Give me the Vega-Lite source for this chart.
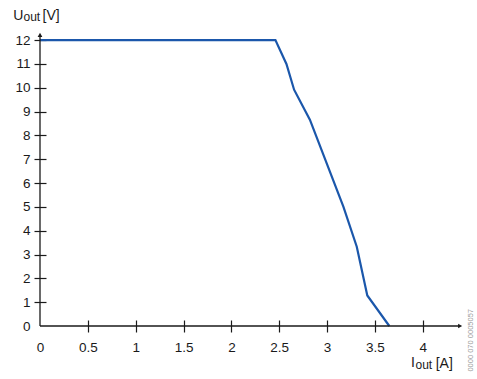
{
  "$schema": "https://vega.github.io/schema/vega-lite/v6.json",
  "width": 423,
  "height": 293,
  "autosize": {"type": "none"},
  "padding": {"left": 40, "top": 33, "right": 14, "bottom": 53},
  "background": "white",
  "config": {
    "view": {"stroke": null},
    "font": "Liberation Sans",
    "text": {"font": "Liberation Sans", "color": "#1a1a1a"}
  },
  "resolve": {"axis": {"x": "independent", "y": "independent"}},
  "datasets": {
    "curve": [
      {"I": 0, "U": 12},
      {"I": 2.46, "U": 12},
      {"I": 2.575, "U": 11.0},
      {"I": 2.655, "U": 9.92},
      {"I": 2.82, "U": 8.66},
      {"I": 3.17, "U": 5.01},
      {"I": 3.31, "U": 3.33},
      {"I": 3.42, "U": 1.28},
      {"I": 3.65, "U": 0}
    ],
    "anchor": [{"a": 1}]
  },
  "layer": [
    {
      "data": {"name": "curve"},
      "mark": {"type": "line", "color": "#1b57ab", "strokeWidth": 2.2, "clip": false},
      "encoding": {
        "x": {
          "field": "I", "type": "quantitative",
          "scale": {"domain": [0, 4.42], "nice": false, "zero": false},
          "axis": {
            "orient": "bottom",
            "values": [0, 0.5, 1, 1.5, 2, 2.5, 3, 3.5, 4],
            "format": "~g",
            "title": null,
            "grid": false,
            "domain": false,
            "offset": -6,
            "tickSize": 12,
            "tickWidth": 1.2,
            "tickColor": "#1a1a1a",
            "tickOpacity": {"condition": {"test": "datum.value === 0", "value": 0}, "value": 1},
            "labelPadding": 8,
            "labelFont": "Liberation Sans",
            "labelFontSize": 13.5,
            "labelColor": "#1a1a1a",
            "labelOverlap": false,
            "labelFlush": false
          }
        },
        "y": {
          "field": "U", "type": "quantitative",
          "scale": {"domain": [0, 12.3], "nice": false, "zero": false},
          "axis": {
            "orient": "left",
            "values": [0, 1, 2, 3, 4, 5, 6, 7, 8, 9, 10, 11, 12],
            "format": "~g",
            "title": null,
            "grid": false,
            "domain": false,
            "offset": -6,
            "tickSize": 12,
            "tickWidth": 1.2,
            "tickColor": "#1a1a1a",
            "tickOpacity": {"condition": {"test": "datum.value === 0", "value": 0}, "value": 1},
            "labelPadding": 4,
            "labelFont": "Liberation Sans",
            "labelFontSize": 13.5,
            "labelColor": "#1a1a1a",
            "labelOverlap": false,
            "labelFlush": false
          }
        }
      }
    },
    {
      "data": {"name": "anchor"},
      "mark": {"type": "rule", "color": "#1a1a1a", "strokeWidth": 1.3},
      "encoding": {"x": {"datum": 0, "axis": null}, "x2": {"datum": 4.39}, "y": {"datum": 0, "axis": null}}
    },
    {
      "data": {"name": "anchor"},
      "mark": {"type": "rule", "color": "#1a1a1a", "strokeWidth": 1.3},
      "encoding": {"x": {"datum": 0, "axis": null}, "y": {"datum": 0, "axis": null}, "y2": {"datum": 12.22}}
    },
    {
      "data": {"name": "anchor"},
      "mark": {"type": "point", "shape": "triangle-right", "filled": true, "color": "#1a1a1a", "size": 22, "opacity": 1},
      "encoding": {"x": {"datum": 4.39, "axis": null}, "y": {"datum": 0, "axis": null}}
    },
    {
      "data": {"name": "anchor"},
      "mark": {"type": "point", "shape": "triangle-up", "filled": true, "color": "#1a1a1a", "size": 22, "opacity": 1},
      "encoding": {"x": {"datum": 0, "axis": null}, "y": {"datum": 12.22, "axis": null}}
    },
    {
      "data": {"name": "anchor"},
      "mark": {"type": "text", "text": "U", "fontSize": 14, "align": "left", "baseline": "alphabetic", "dx": -26.7, "dy": -13},
      "encoding": {"x": {"datum": 0, "axis": null}, "y": {"datum": 12.3, "axis": null}}
    },
    {
      "data": {"name": "anchor"},
      "mark": {"type": "text", "text": "out", "fontSize": 12, "align": "left", "baseline": "alphabetic", "dx": -16.5, "dy": -11.8},
      "encoding": {"x": {"datum": 0, "axis": null}, "y": {"datum": 12.3, "axis": null}}
    },
    {
      "data": {"name": "anchor"},
      "mark": {"type": "text", "text": "[V]", "fontSize": 14, "align": "left", "baseline": "alphabetic", "dx": 2.5, "dy": -13},
      "encoding": {"x": {"datum": 0, "axis": null}, "y": {"datum": 12.3, "axis": null}}
    },
    {
      "data": {"name": "anchor"},
      "mark": {"type": "text", "text": "I", "fontSize": 14, "align": "left", "baseline": "alphabetic", "dx": -52, "dy": 41},
      "encoding": {"x": {"datum": 4.42, "axis": null}, "y": {"datum": 0, "axis": null}}
    },
    {
      "data": {"name": "anchor"},
      "mark": {"type": "text", "text": "out", "fontSize": 12, "align": "left", "baseline": "alphabetic", "dx": -47.5, "dy": 42.7},
      "encoding": {"x": {"datum": 4.42, "axis": null}, "y": {"datum": 0, "axis": null}}
    },
    {
      "data": {"name": "anchor"},
      "mark": {"type": "text", "text": "[A]", "fontSize": 14, "align": "left", "baseline": "alphabetic", "dx": -27.3, "dy": 42},
      "encoding": {"x": {"datum": 4.42, "axis": null}, "y": {"datum": 0, "axis": null}}
    },
    {
      "data": {"name": "anchor"},
      "mark": {"type": "text", "text": "0000 070 0005057", "fontSize": 7.5, "angle": 270, "align": "center", "baseline": "middle", "color": "#9a9a9a"},
      "encoding": {"x": {"datum": 4.505, "axis": null}, "y": {"datum": -0.6, "axis": null}}
    }
  ]
}
